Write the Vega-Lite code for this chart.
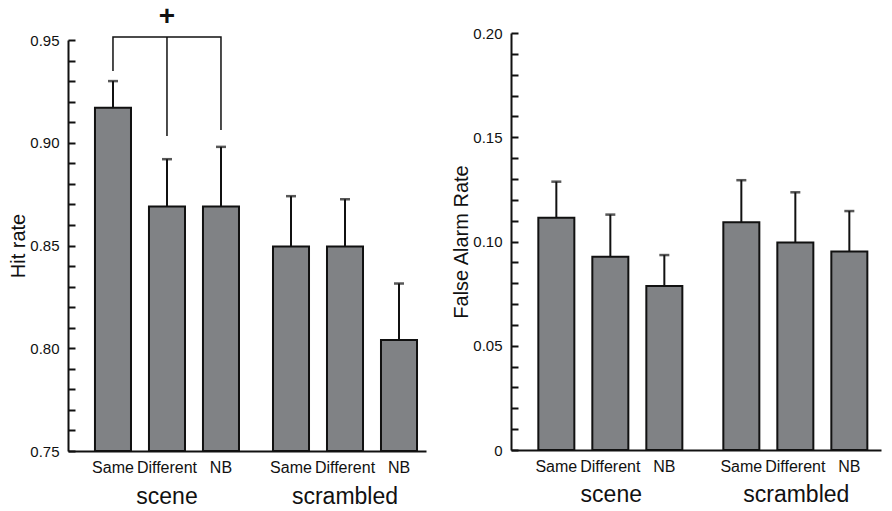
{
  "$schema": "https://vega.github.io/schema/vega-lite/v6.json",
  "padding": {"left": 8, "top": 2, "right": 5, "bottom": 5},
  "config": {"font": "Liberation Sans", "view": {"stroke": null}},
  "bounds": "flush",
  "spacing": 85,
  "datasets": {
    "hit": [
      {"group": "scene", "cond": "Same", "value": 0.917, "upper": 0.930},
      {"group": "scene", "cond": "Different", "value": 0.869, "upper": 0.892},
      {"group": "scene", "cond": "NB", "value": 0.869, "upper": 0.898},
      {"group": "scrambled", "cond": "Same", "value": 0.8495, "upper": 0.874},
      {"group": "scrambled", "cond": "Different", "value": 0.8495, "upper": 0.8725},
      {"group": "scrambled", "cond": "NB", "value": 0.804, "upper": 0.8315}
    ],
    "fa": [
      {"group": "scene", "cond": "Same", "value": 0.1114, "upper": 0.1287},
      {"group": "scene", "cond": "Different", "value": 0.0927, "upper": 0.1129},
      {"group": "scene", "cond": "NB", "value": 0.0787, "upper": 0.0935},
      {"group": "scrambled", "cond": "Same", "value": 0.1092, "upper": 0.1294},
      {"group": "scrambled", "cond": "Different", "value": 0.0995, "upper": 0.1236},
      {"group": "scrambled", "cond": "NB", "value": 0.0952, "upper": 0.1146}
    ],
    "bracket": [
      {"group": "scene", "cond": "Same", "level": 0.9349, "seg": "a", "ord": 1},
      {"group": "scene", "cond": "Same", "level": 0.9515, "seg": "a", "ord": 2},
      {"group": "scene", "cond": "NB", "level": 0.9515, "seg": "a", "ord": 3},
      {"group": "scene", "cond": "NB", "level": 0.9062, "seg": "a", "ord": 4},
      {"group": "scene", "cond": "Different", "level": 0.9033, "seg": "b", "ord": 1},
      {"group": "scene", "cond": "Different", "level": 0.9515, "seg": "b", "ord": 2}
    ],
    "sig": [
      {"group": "scene", "cond": "Different", "level": 0.9614, "label": "+"}
    ]
  },
  "hconcat": [
    {
      "width": 358,
      "height": 418,
      "layer": [
        {
          "data": {"name": "hit"},
          "mark": {"type": "bar", "fill": "#808285", "stroke": "#111111", "strokeWidth": 2},
          "encoding": {
            "x": {"field": "group", "type": "nominal", "title": null,
              "scale": {"domain": ["scene", "scrambled"], "paddingInner": 0.191, "paddingOuter": 0.101, "align": 0.75},
              "axis": {"domainColor": "#111111", "domainWidth": 2, "ticks": false, "labelFontSize": 23, "labelColor": "#111111", "labelPadding": 34, "labelAngle": 0}},
            "xOffset": {"field": "cond", "type": "nominal",
              "scale": {"domain": ["Same", "Different", "NB"], "paddingInner": 0.333, "paddingOuter": 0}},
            "y": {"field": "value", "type": "quantitative", "title": "Hit rate",
              "scale": {"domain": [0.75, 0.95], "range": [418, 7], "zero": false, "nice": false},
              "axis": {"values": [0.75,0.76,0.77,0.78,0.79,0.80,0.81,0.82,0.83,0.84,0.85,0.86,0.87,0.88,0.89,0.90,0.91,0.92,0.93,0.94,0.95],
                "tickCount": 30,
                "labelExpr": "round(datum.value*100) % 5 === 0 ? format(datum.value, '.2f') : ''",
                "grid": false, "tickSize": -7, "tickWidth": 2, "tickColor": "#111111", "domainColor": "#111111", "domainWidth": 2,
                "labelFontSize": 15, "labelColor": "#111111", "labelPadding": 16, "labelOverlap": false, "labelFlush": false,
                "titleFontSize": 20, "titleFontWeight": "normal", "titleColor": "#111111", "titlePadding": 1}},
            "y2": {"datum": 0.75}
          }
        },
        {
          "data": {"name": "hit"},
          "mark": {"type": "rule", "color": "#111111", "strokeWidth": 2},
          "encoding": {
            "x": {"field": "group", "type": "nominal", "title": null},
            "xOffset": {"field": "cond", "type": "nominal"},
            "y": {"field": "value", "type": "quantitative", "title": "Hit rate"},
            "y2": {"field": "upper"}
          }
        },
        {
          "data": {"name": "hit"},
          "mark": {"type": "tick", "color": "#111111", "size": 10, "thickness": 2.5},
          "encoding": {
            "x": {"field": "group", "type": "nominal", "title": null},
            "xOffset": {"field": "cond", "type": "nominal"},
            "y": {"field": "upper", "type": "quantitative", "title": "Hit rate"}
          }
        },
        {
          "data": {"name": "hit"},
          "mark": {"type": "text", "fontSize": 16, "baseline": "alphabetic", "dy": 22, "color": "#111111"},
          "encoding": {
            "x": {"field": "group", "type": "nominal", "title": null},
            "xOffset": {"field": "cond", "type": "nominal"},
            "y": {"datum": 0.75},
            "text": {"field": "cond"}
          }
        },
        {
          "data": {"name": "bracket"},
          "mark": {"type": "line", "color": "#111111", "strokeWidth": 1.5},
          "encoding": {
            "x": {"field": "group", "type": "nominal", "title": null},
            "xOffset": {"field": "cond", "type": "nominal"},
            "y": {"field": "level", "type": "quantitative", "title": "Hit rate"},
            "detail": {"field": "seg"},
            "order": {"field": "ord"}
          }
        },
        {
          "data": {"name": "sig"},
          "mark": {"type": "text", "fontSize": 28, "fontWeight": "bold", "baseline": "middle", "color": "#111111"},
          "encoding": {
            "x": {"field": "group", "type": "nominal", "title": null},
            "xOffset": {"field": "cond", "type": "nominal"},
            "y": {"field": "level", "type": "quantitative", "title": "Hit rate"},
            "text": {"field": "label"}
          }
        }
      ]
    },
    {
      "width": 370,
      "height": 417,
      "layer": [
        {
          "data": {"name": "fa"},
          "mark": {"type": "bar", "fill": "#808285", "stroke": "#111111", "strokeWidth": 2},
          "encoding": {
            "x": {"field": "group", "type": "nominal", "title": null,
              "scale": {"domain": ["scene", "scrambled"], "paddingInner": 0.211, "paddingOuter": 0.1055, "align": 0.7},
              "axis": {"domainColor": "#111111", "domainWidth": 2, "ticks": false, "labelFontSize": 23, "labelColor": "#111111", "labelPadding": 33, "labelAngle": 0}},
            "xOffset": {"field": "cond", "type": "nominal",
              "scale": {"domain": ["Same", "Different", "NB"], "paddingInner": 0.296, "paddingOuter": 0}},
            "y": {"field": "value", "type": "quantitative", "title": "False Alarm Rate",
              "scale": {"domain": [0, 0.2], "nice": false},
              "axis": {"values": [0,0.01,0.02,0.03,0.04,0.05,0.06,0.07,0.08,0.09,0.10,0.11,0.12,0.13,0.14,0.15,0.16,0.17,0.18,0.19,0.20],
                "tickCount": 30,
                "labelExpr": "datum.value === 0 ? '0' : (round(datum.value*100) % 5 === 0 ? format(datum.value, '.2f') : '')",
                "grid": false, "tickSize": -7, "tickWidth": 2, "tickColor": "#111111", "domainColor": "#111111", "domainWidth": 2,
                "labelFontSize": 15, "labelColor": "#111111", "labelPadding": 16, "labelOverlap": false, "labelFlush": false,
                "titleFontSize": 20, "titleFontWeight": "normal", "titleColor": "#111111", "titlePadding": 1}}
          }
        },
        {
          "data": {"name": "fa"},
          "mark": {"type": "rule", "color": "#111111", "strokeWidth": 2},
          "encoding": {
            "x": {"field": "group", "type": "nominal", "title": null},
            "xOffset": {"field": "cond", "type": "nominal"},
            "y": {"field": "value", "type": "quantitative", "title": "False Alarm Rate"},
            "y2": {"field": "upper"}
          }
        },
        {
          "data": {"name": "fa"},
          "mark": {"type": "tick", "color": "#111111", "size": 10, "thickness": 2.5},
          "encoding": {
            "x": {"field": "group", "type": "nominal", "title": null},
            "xOffset": {"field": "cond", "type": "nominal"},
            "y": {"field": "upper", "type": "quantitative", "title": "False Alarm Rate"}
          }
        },
        {
          "data": {"name": "fa"},
          "mark": {"type": "text", "fontSize": 16, "baseline": "alphabetic", "dy": 22, "color": "#111111"},
          "encoding": {
            "x": {"field": "group", "type": "nominal", "title": null},
            "xOffset": {"field": "cond", "type": "nominal"},
            "y": {"datum": 0},
            "text": {"field": "cond"}
          }
        }
      ]
    }
  ]
}
